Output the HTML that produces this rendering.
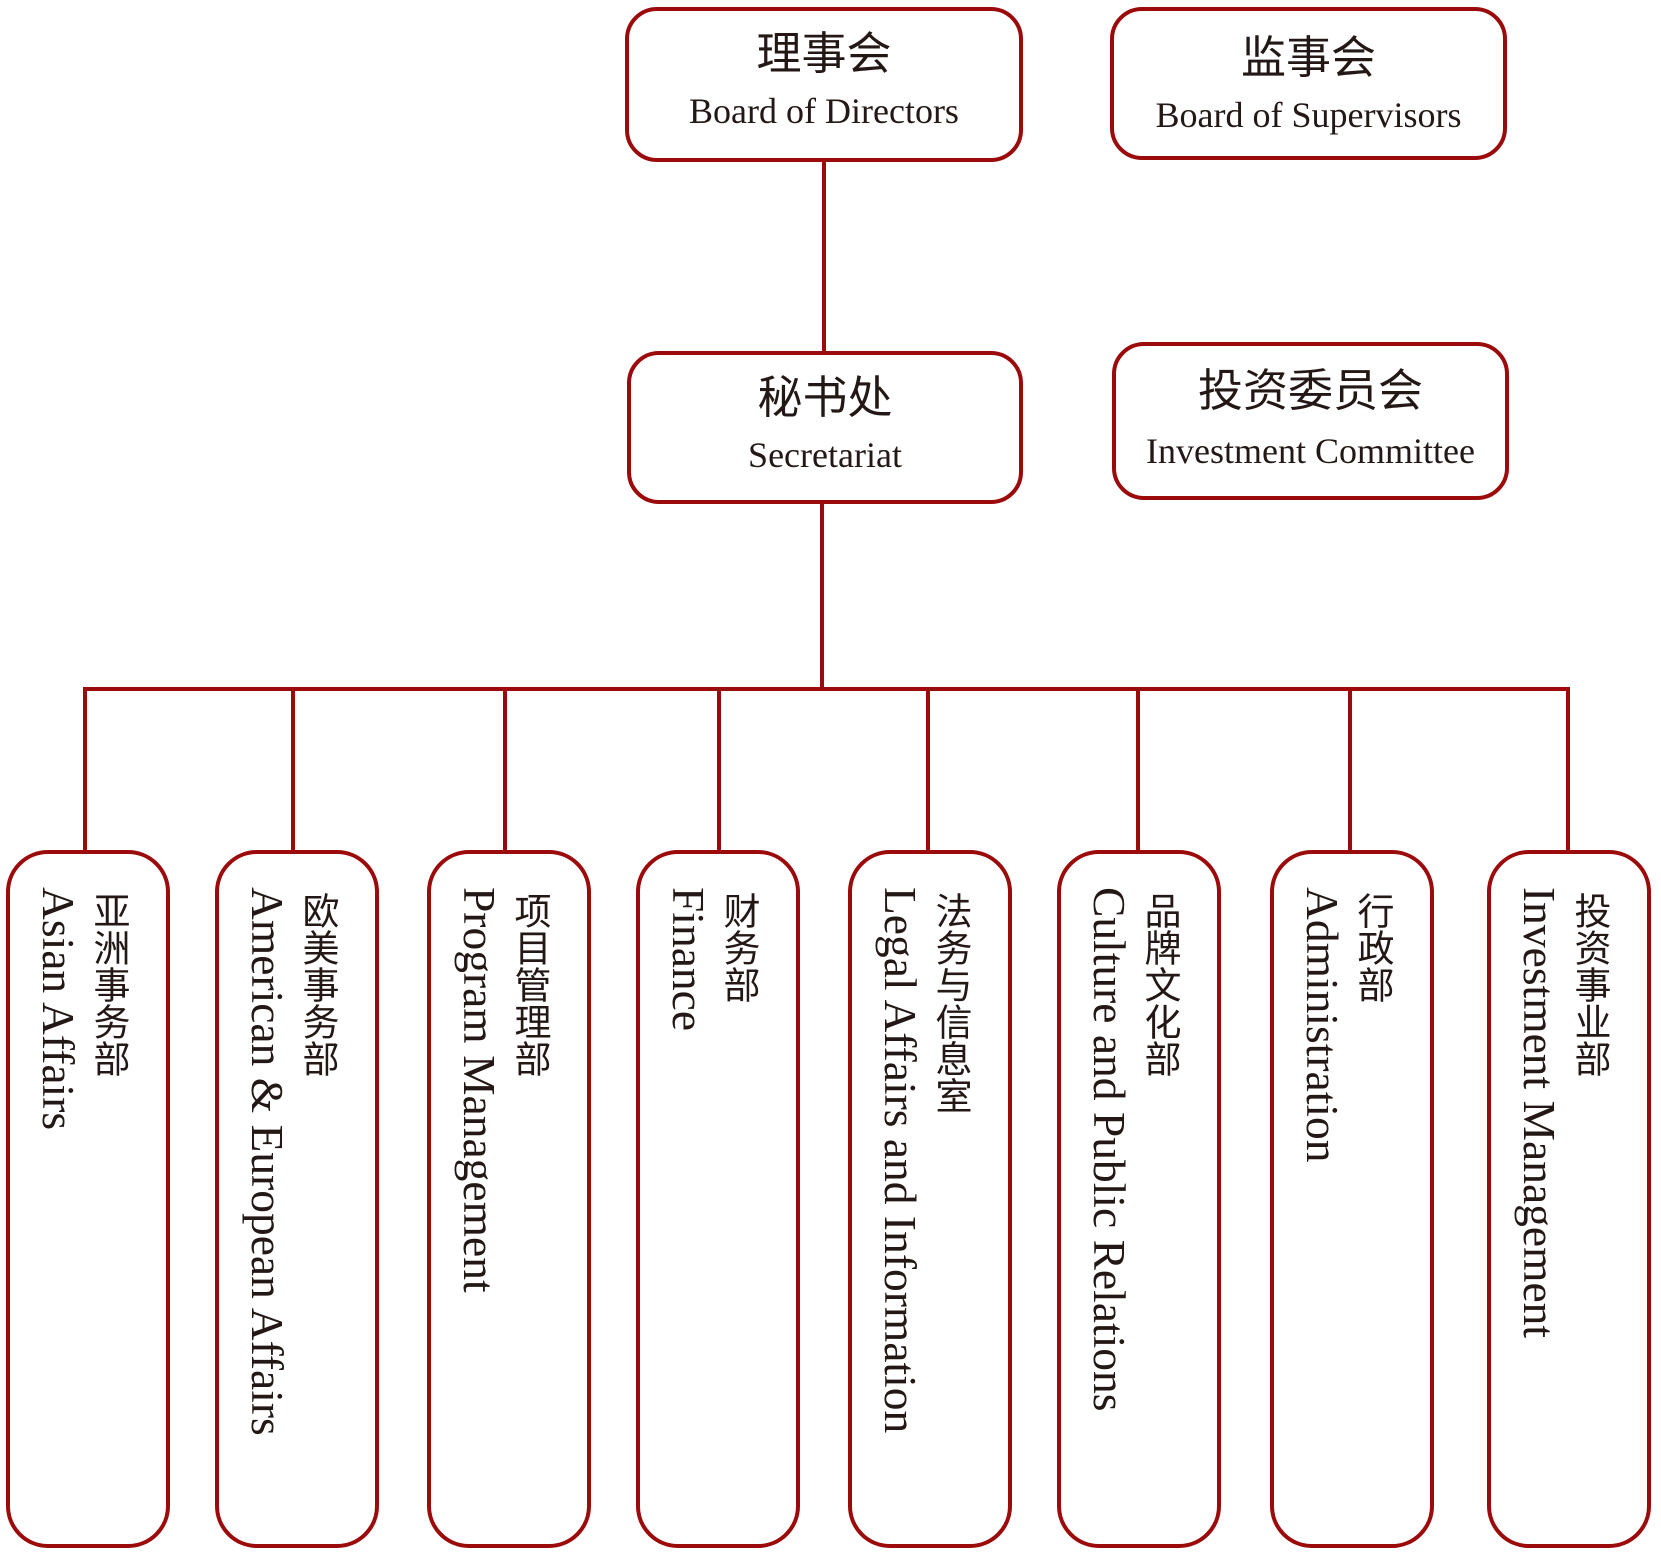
<!DOCTYPE html>
<html><head><meta charset="utf-8"><style>
body{margin:0;width:1661px;height:1556px;background:#fff;position:relative;overflow:hidden;font-family:"Liberation Serif","Noto Serif CJK SC",serif;color:#231815}
.b{position:absolute;border:4px solid #9b0b0b;box-sizing:border-box;background:#fff}
.t{border-radius:32px;text-align:center}
.t .c{font-family:"Noto Sans CJK SC",sans-serif;font-size:45px;line-height:50px;margin-top:14px}
.t .e{font-size:36px;line-height:42px;margin-top:15px}
.l{position:absolute;background:#9b0b0b}
.v{position:absolute;writing-mode:vertical-rl;white-space:nowrap}
.vc{font-family:"Noto Sans CJK SC",sans-serif;font-size:37px;line-height:38px}
.ve{font-size:45.5px;line-height:46px}
.d{border-radius:42px;top:850px;height:698px;width:164px}
</style></head><body>
<div class="l" style="left:822px;top:160px;width:4px;height:193px"></div>
<div class="l" style="left:820px;top:500px;width:4px;height:190px"></div>
<div class="l" style="left:83px;top:687px;width:1487px;height:4px"></div>
<div class="l" style="left:83px;top:687px;width:4px;height:165px"></div>
<div class="l" style="left:291px;top:687px;width:4px;height:165px"></div>
<div class="l" style="left:503px;top:687px;width:4px;height:165px"></div>
<div class="l" style="left:717px;top:687px;width:4px;height:165px"></div>
<div class="l" style="left:926px;top:687px;width:4px;height:165px"></div>
<div class="l" style="left:1136px;top:687px;width:4px;height:165px"></div>
<div class="l" style="left:1348px;top:687px;width:4px;height:165px"></div>
<div class="l" style="left:1566px;top:687px;width:4px;height:165px"></div>

<div class="b t" style="left:625px;top:7px;width:398px;height:155px"><div class="c">理事会</div><div class="e">Board of Directors</div></div>
<div class="b t" style="left:1110px;top:7px;width:397px;height:153px"><div class="c" style="margin-top:18px">监事会</div><div class="e">Board of Supervisors</div></div>
<div class="b t" style="left:627px;top:351px;width:396px;height:153px"><div class="c">秘书处</div><div class="e">Secretariat</div></div>
<div class="b t" style="left:1112px;top:342px;width:397px;height:158px"><div class="c" style="margin-top:16px">投资委员会</div><div class="e" style="margin-top:18px">Investment Committee</div></div>

<div class="b d" style="left:6px"></div>
<div class="b d" style="left:215px"></div>
<div class="b d" style="left:427px"></div>
<div class="b d" style="left:636px"></div>
<div class="b d" style="left:848px"></div>
<div class="b d" style="left:1057px"></div>
<div class="b d" style="left:1270px"></div>
<div class="b d" style="left:1487px"></div>

<div class="v vc" style="left:93px;top:892px">亚洲事务部</div>
<div class="v ve" style="left:35px;top:887px">Asian Affairs</div>
<div class="v vc" style="left:302px;top:892px">欧美事务部</div>
<div class="v ve" style="left:244px;top:887px">American &amp; European Affairs</div>
<div class="v vc" style="left:514px;top:892px">项目管理部</div>
<div class="v ve" style="left:456px;top:887px">Program Management</div>
<div class="v vc" style="left:723px;top:892px">财务部</div>
<div class="v ve" style="left:665px;top:887px">Finance</div>
<div class="v vc" style="left:935px;top:892px">法务与信息室</div>
<div class="v ve" style="left:877px;top:887px">Legal Affairs and Information</div>
<div class="v vc" style="left:1144px;top:892px">品牌文化部</div>
<div class="v ve" style="left:1086px;top:887px">Culture and Public Relations</div>
<div class="v vc" style="left:1357px;top:892px">行政部</div>
<div class="v ve" style="left:1299px;top:887px">Administration</div>
<div class="v vc" style="left:1574px;top:892px">投资事业部</div>
<div class="v ve" style="left:1516px;top:887px">Investment Management</div>
</body></html>
